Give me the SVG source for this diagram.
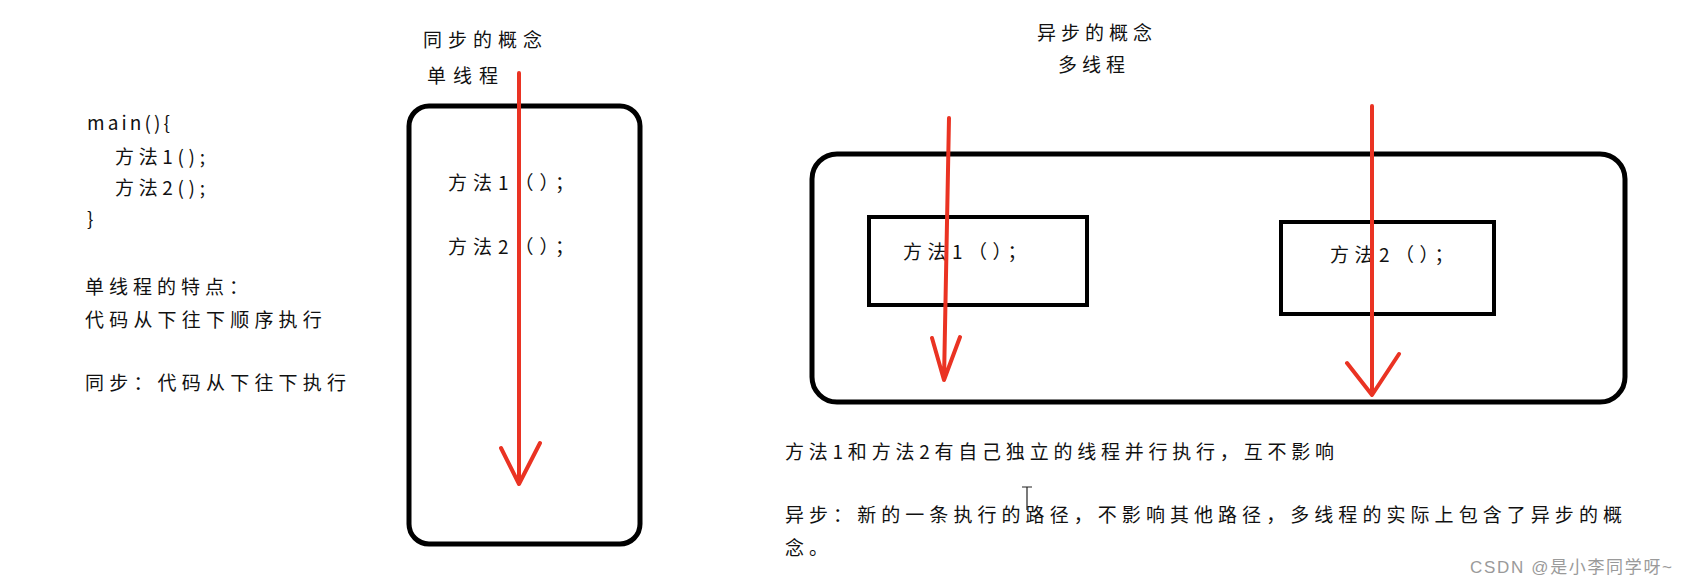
<svg xmlns="http://www.w3.org/2000/svg" width="1687" height="587" viewBox="0 0 1687 587">
<style>
.t{font-family:"Noto Sans CJK SC","Noto Sans",sans-serif;font-size:19px;fill:#111}
.box{fill:none;stroke:#000;stroke-width:5}
.ibox{fill:none;stroke:#000;stroke-width:4}
.arr{fill:none;stroke:#ea3323;stroke-width:4;stroke-linecap:round;stroke-linejoin:round}
.wm{font-family:"Liberation Sans","Noto Sans CJK SC",sans-serif;font-size:17px;fill:#9a9a9a}
</style>
<rect width="1687" height="587" fill="#fff"/>
<g id="code">
<text class="t" x="87" y="130" textLength="83" lengthAdjust="spacing">main(){</text>
<text class="t" x="115" y="164" textLength="90" lengthAdjust="spacing">方法1();</text>
<text class="t" x="115" y="195" textLength="90" lengthAdjust="spacing">方法2();</text>
<text class="t" x="87" y="226">}</text>
</g>
<g id="single-thread-notes">
<text class="t" x="85" y="294" letter-spacing="5">单线程的特点：</text>
<text class="t" x="85" y="327" letter-spacing="5.2">代码从下往下顺序执行</text>
<text class="t" x="85" y="390" letter-spacing="5.2">同步：代码从下往下执行</text>
</g>
<g id="sync-title">
<text class="t" x="423" y="47" letter-spacing="6">同步的概念</text>
<text class="t" x="427" y="83" letter-spacing="7">单线程</text>
</g>
<g id="sync-box">
<rect class="box" x="409" y="106" width="231" height="438" rx="20"/>
<text class="t" x="448" y="190" letter-spacing="6">方法1（）；</text>
<text class="t" x="448" y="254" letter-spacing="6">方法2（）；</text>
</g>
<g id="async-title">
<text class="t" x="1037" y="40" letter-spacing="5">异步的概念</text>
<text class="t" x="1058" y="72" letter-spacing="5">多线程</text>
</g>
<g id="async-box">
<rect class="box" x="812" y="154" width="813" height="248" rx="25"/>
</g>
<g id="method1">
<rect class="ibox" x="869" y="217" width="218" height="88"/>
<text class="t" x="903" y="259" letter-spacing="5.5">方法1（）；</text>
</g>
<g id="method2">
<rect class="ibox" x="1281" y="222" width="213" height="92"/>
<text class="t" x="1330" y="262" letter-spacing="5.5">方法2（）；</text>
</g>
<g id="async-notes">
<text class="t" x="785" y="459" textLength="549" lengthAdjust="spacing">方法1和方法2有自己独立的线程并行执行，互不影响</text>
<text class="t" x="785" y="522" textLength="837" lengthAdjust="spacing">异步：新的一条执行的路径，不影响其他路径，多线程的实际上包含了异步的概</text>
<text class="t" x="785" y="555" letter-spacing="5">念。</text>
<path d="M1027 487V510M1022 487H1032" stroke="#222" stroke-width="1.2" fill="none"/>
</g>
<g id="connectors">
<path class="arr" d="M519 73V484M501 448L519 484L540 443"/>
<path class="arr" d="M949 118L944 380M932 338L944 380L960 337"/>
<path class="arr" d="M1372 106V393M1347 363L1372 395L1399 354"/>
</g>
<text class="wm" x="1470" y="573" textLength="202" lengthAdjust="spacing">CSDN @是小李同学呀~</text>
</svg>
